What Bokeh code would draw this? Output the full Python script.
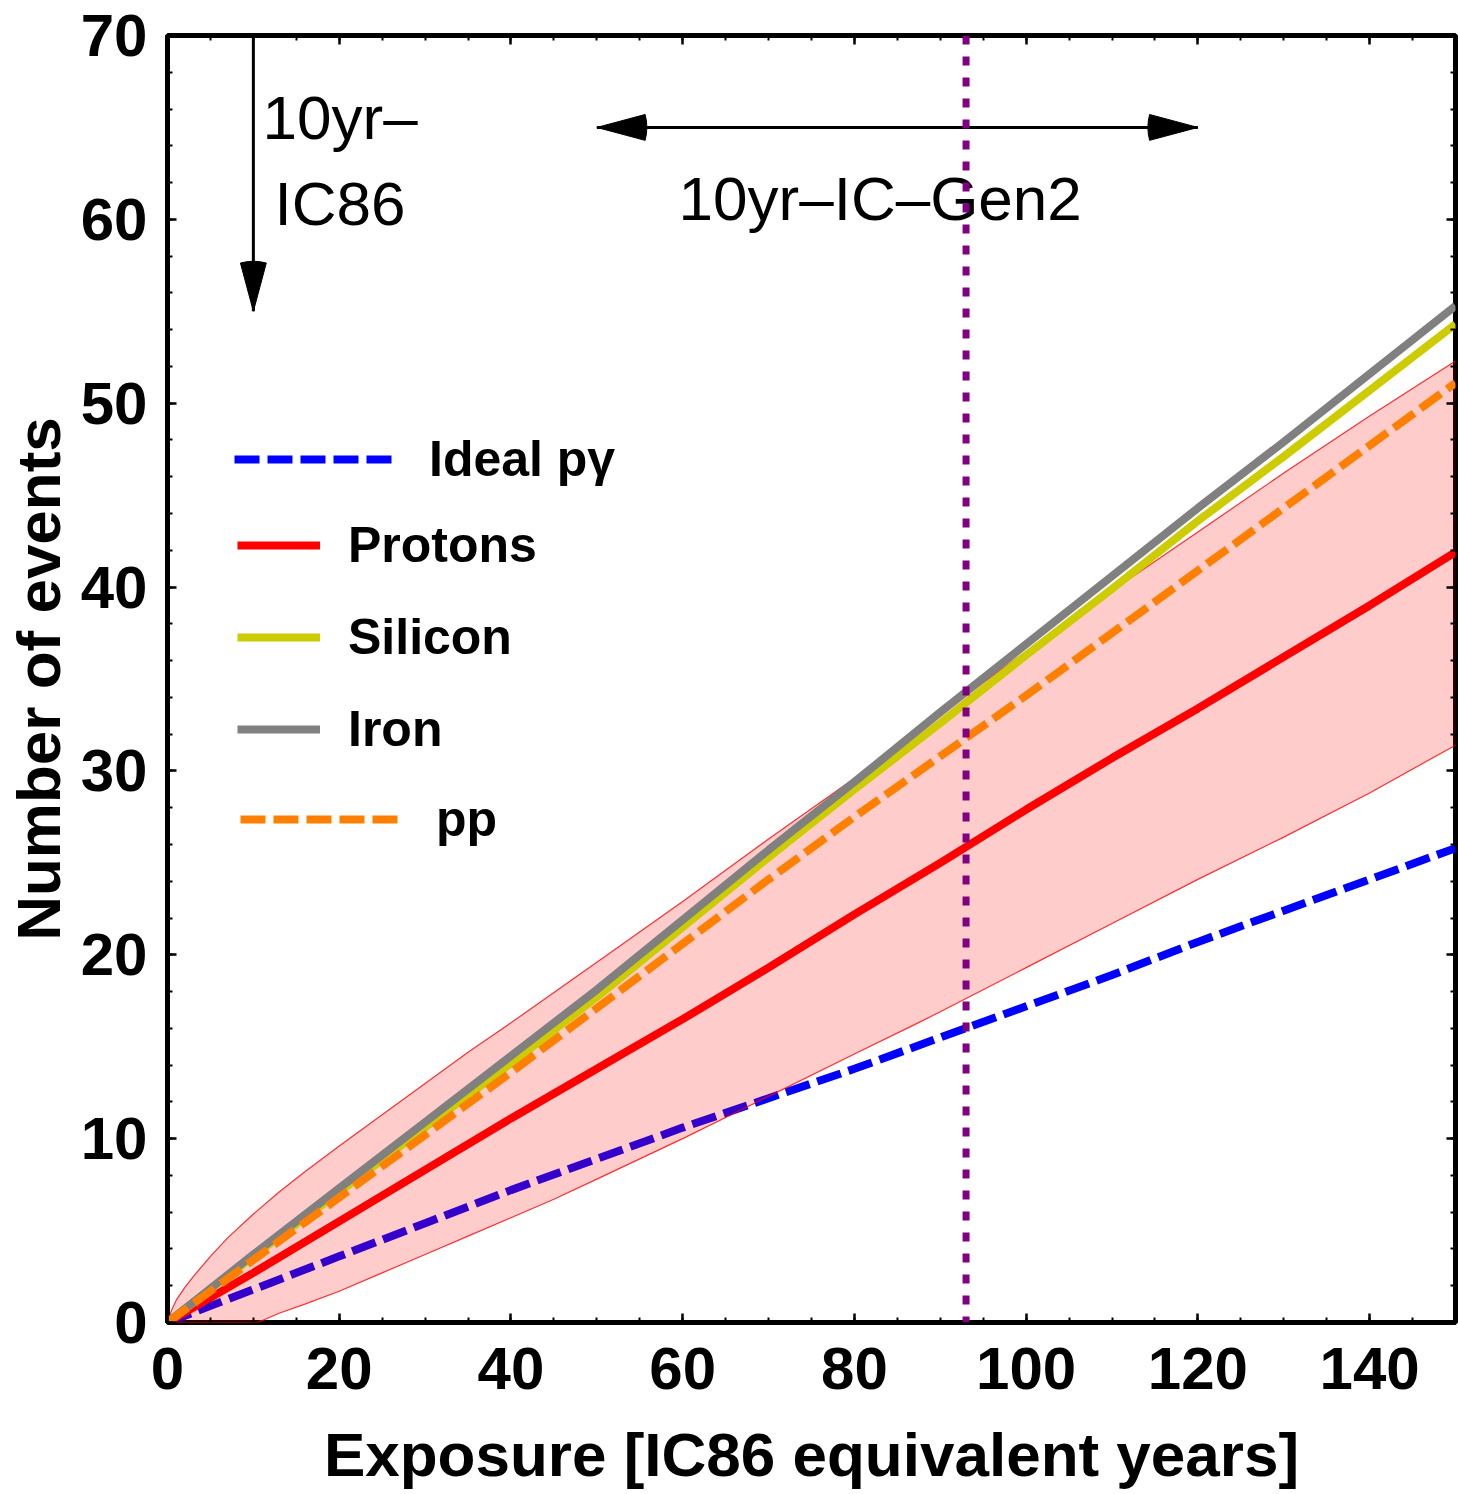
from bokeh.plotting import figure
from bokeh.models import (Legend, LegendItem, Span, SingleIntervalTicker, LinearAxis, Range1d,
                          CustomLabelingPolicy)
from bokeh.core.properties import value
from bokeh.embed import file_html
from bokeh.resources import INLINE

# ---------------- data ----------------
years = [0, 10, 20, 30, 40, 50, 60, 70, 80, 90, 100, 110, 120, 130, 140, 150]
ideal_pg = [0, 1.8, 3.6, 5.4, 7.2, 8.9, 10.6, 12.2, 13.8, 15.5, 17.2, 18.9, 20.7, 22.4, 24.1, 25.8]
protons = [0, 2.7, 5.5, 8.3, 11.1, 13.8, 16.5, 19.3, 22.2, 25.0, 27.9, 30.7, 33.4, 36.2, 39.0, 41.9]
silicon = [0, 3.6, 7.1, 10.6, 14.1, 17.7, 21.5, 25.3, 29.0, 32.6, 36.3, 39.9, 43.6, 47.1, 50.7, 54.3]
iron = [0, 3.7, 7.3, 10.9, 14.5, 18.1, 21.9, 25.7, 29.4, 33.2, 36.9, 40.6, 44.3, 47.9, 51.6, 55.3]
pp = [0, 3.4, 6.8, 10.2, 13.6, 17.1, 20.6, 24.1, 27.5, 30.8, 34.1, 37.5, 40.9, 44.3, 47.7, 51.1]

band_x = [0, 0.5, 1, 2, 3, 5, 7, 10, 10.5, 13, 16, 20, 25, 30, 35, 40, 45, 50, 60, 70, 80, 87,
          90, 100, 110, 120, 130, 140, 150]
band_hi = [0, 0.7, 1.2, 1.9, 2.5, 3.6, 4.6, 5.9, 6.1, 7.1, 8.2, 9.6, 11.3, 13.0, 14.7, 16.3, 17.95,
           19.6, 22.9, 26.3, 29.6, 32.0, 33.1, 36.5, 39.8, 43.0, 46.2, 49.3, 52.3]
band_lo = [0, 0, 0, 0, 0, 0, 0, 0, 0, 0.5, 1.0, 1.7, 2.7, 3.7, 4.7, 5.7, 6.7, 7.8, 10.0, 12.3,
           14.6, 16.2, 16.9, 19.3, 21.7, 24.1, 26.4, 28.8, 31.4]

gen2_exposure = 93          # vertical dotted line
ic86_arrow_x = [10]
ic86_arrow_y0 = [70]
ic86_arrow_y1 = [55]
gen2_arrow_x0 = [50]
gen2_arrow_x1 = [120]
gen2_arrow_y = [65]

ann_text = ["10yr\u2013", "IC86", "10yr\u2013IC\u2013Gen2"]
ann_x = [20.1, 20.1, 83.0]
ann_y = [65.55, 60.85, 61.15]

x_label = "Exposure [IC86 equivalent years]"
y_label = "Number of events"

FONT = "Liberation Sans"

p = figure(width=1458, height=1494,
           x_range=Range1d(0, 150), y_range=Range1d(0, 70),
           output_backend="svg", toolbar_location=None,
           min_border_left=167, min_border_right=3,
           min_border_top=35, min_border_bottom=172)
p.grid.visible = False
p.outline_line_color = "black"
p.outline_line_width = 5
p.background_fill_color = "white"
p.border_fill_color = "white"

xt = SingleIntervalTicker(interval=20, num_minor_ticks=4)
yt = SingleIntervalTicker(interval=10, num_minor_ticks=5)
bottom_ax = p.below[0]
left_ax = p.left[0]
bottom_ax.ticker = xt
left_ax.ticker = yt
top_ax = LinearAxis(ticker=xt)
right_ax = LinearAxis(ticker=yt)
p.add_layout(top_ax, "above")
p.add_layout(right_ax, "right")

for ax in (bottom_ax, left_ax, top_ax, right_ax):
    ax.axis_line_color = None
    ax.major_tick_in = 9
    ax.major_tick_out = 0
    ax.minor_tick_in = 5
    ax.minor_tick_out = 0
    ax.major_tick_line_width = 2.5
    ax.minor_tick_line_width = 2
    ax.major_label_text_font = FONT
    ax.major_label_text_font_style = "bold"
    ax.major_label_text_font_size = "60px"
    ax.major_label_text_color = "black"
    ax.axis_label_text_font = FONT
    ax.axis_label_text_font_style = "bold"
    ax.axis_label_text_font_size = "62px"
    ax.axis_label_text_color = "black"

hide_all = CustomLabelingPolicy(code="""
    for (const i of indices) indices.unset(i)
    return indices
""")
for ax in (top_ax, right_ax):
    ax.major_label_policy = hide_all
    ax.major_label_text_font_size = "0px"
    ax.major_label_standoff = 0

bottom_ax.axis_label = x_label
bottom_ax.major_label_standoff = 25
bottom_ax.axis_label_standoff = 28
left_ax.axis_label = y_label
left_ax.major_label_standoff = 20
left_ax.axis_label_standoff = 5

# ---------------- curves ----------------
r_pg = p.line(years, ideal_pg, line_color="#0000FF", line_width=8, line_dash="25 8")

p.varea(x=band_x, y1=band_lo, y2=band_hi, fill_color="#FF0000", fill_alpha=0.2)
p.line(band_x, band_hi, line_color="#FF0000", line_width=1.2, line_alpha=0.8)
p.line(band_x, band_lo, line_color="#FF0000", line_width=1.2, line_alpha=0.8)

r_p = p.line(years, protons, line_color="#FF0000", line_width=8)
r_si = p.line(years, silicon, line_color="#CCCC00", line_width=8)
r_fe = p.line(years, iron, line_color="#808080", line_width=8)
r_pp = p.line(years, pp, line_color="#FF8000", line_width=8, line_dash="25 8")

p.add_layout(Span(location=gen2_exposure, dimension="height", line_color="#800080",
                  line_width=7, line_dash="9 12"))

# ---------------- arrows ----------------
p.segment(x0=ic86_arrow_x, y0=ic86_arrow_y0, x1=ic86_arrow_x, y1=ic86_arrow_y1,
          line_color="black", line_width=3)
p.wedge(x=ic86_arrow_x, y=ic86_arrow_y1, radius=50, radius_units="screen",
        start_angle=75, end_angle=105, start_angle_units="deg", end_angle_units="deg",
        fill_color="black", line_color="black")
p.segment(x0=gen2_arrow_x0, y0=gen2_arrow_y, x1=gen2_arrow_x1, y1=gen2_arrow_y,
          line_color="black", line_width=3)
p.wedge(x=gen2_arrow_x0 + gen2_arrow_x1, y=gen2_arrow_y * 2, radius=50, radius_units="screen",
        start_angle=[-15, 165], end_angle=[15, 195],
        start_angle_units="deg", end_angle_units="deg",
        fill_color="black", line_color="black")

p.text(x=ann_x, y=ann_y, text=ann_text, text_font=value(FONT), text_font_size="62px",
       text_align="center", text_baseline="alphabetic", text_color="black")

# ---------------- legends ----------------
def make_legend(items, loc, gw, standoff):
    lg = Legend(items=items, location=loc, glyph_width=gw, glyph_height=56,
                label_height=56, label_standoff=standoff, spacing=34,
                padding=0, margin=0, border_line_alpha=0, background_fill_alpha=0,
                label_text_font=FONT, label_text_font_style="bold",
                label_text_font_size="50px", label_text_color="black")
    p.add_layout(lg)
    return lg

make_legend([LegendItem(label="Ideal p\u03b3", renderers=[r_pg])], (67, 834), 158, 37)
make_legend([LegendItem(label="Protons", renderers=[r_p]),
             LegendItem(label="Silicon", renderers=[r_si]),
             LegendItem(label="Iron", renderers=[r_fe])], (70, 564), 83, 28)
make_legend([LegendItem(label="pp", renderers=[r_pp])], (73, 474), 158, 38)

open("out.html", "w").write(file_html(p, INLINE))
